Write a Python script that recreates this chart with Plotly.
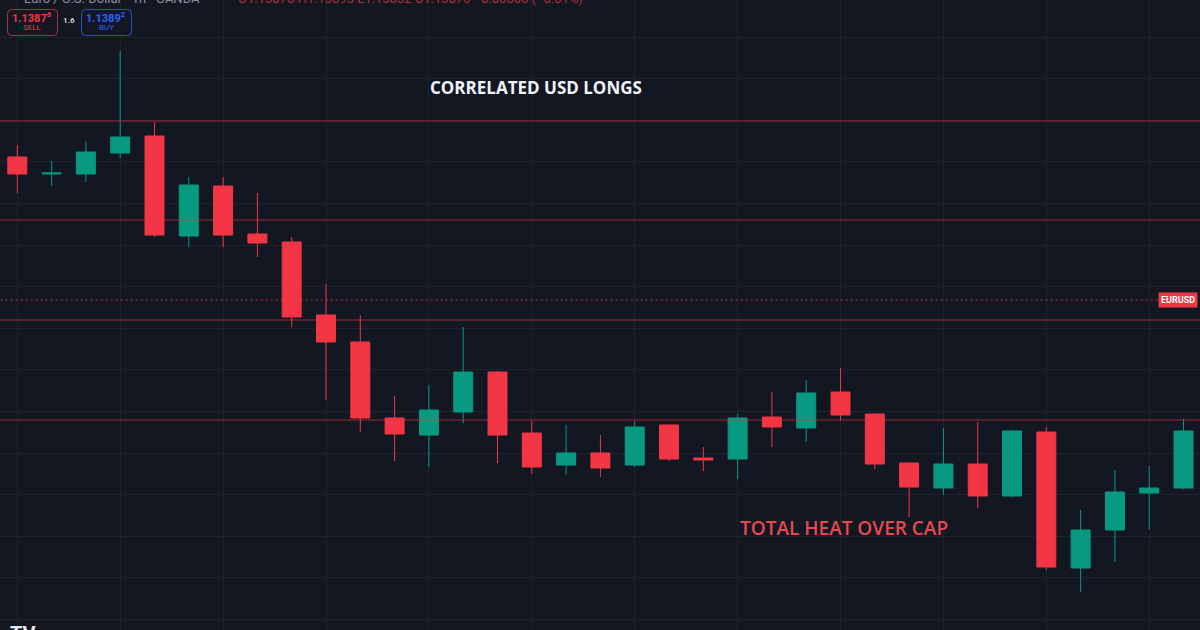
import plotly.graph_objects as go

# ---- data (EUR/USD 1h candles) ----
idx = list(range(35))
opens = [1.14343, 1.14326, 1.14326, 1.14347, 1.14364, 1.14264, 1.14314, 1.14266, 1.14258, 1.14185,
         1.14158, 1.14082, 1.14065, 1.14088, 1.14128, 1.14067, 1.14035, 1.14047, 1.14035, 1.14075,
         1.14042, 1.14041, 1.14083, 1.14072, 1.14108, 1.14086, 1.14037, 1.14012, 1.14036, 1.14004,
         1.14068, 1.13932, 1.13970, 1.14007, 1.14012]
highs = [1.14355, 1.14339, 1.14359, 1.14449, 1.14378, 1.14323, 1.14323, 1.14307, 1.14263, 1.14216,
         1.14185, 1.14104, 1.14115, 1.14173, 1.14129, 1.14079, 1.14075, 1.14065, 1.14079, 1.14076,
         1.14053, 1.14086, 1.14108, 1.14120, 1.14132, 1.14087, 1.14038, 1.14072, 1.14078, 1.14070,
         1.14073, 1.13990, 1.14030, 1.14034, 1.14081]
lows = [1.14307, 1.14314, 1.14318, 1.14342, 1.14263, 1.14253, 1.14253, 1.14243, 1.14173, 1.14100,
        1.14068, 1.14039, 1.14033, 1.14077, 1.14037, 1.14026, 1.14025, 1.14023, 1.14033, 1.14039,
        1.14029, 1.14021, 1.14053, 1.14058, 1.14080, 1.14031, 1.13983, 1.14005, 1.13992, 1.14003,
        1.13930, 1.13908, 1.13938, 1.13971, 1.14011]
closes = [1.14326, 1.14327, 1.14348, 1.14363, 1.14265, 1.14315, 1.14265, 1.14257, 1.14183, 1.14158,
          1.14082, 1.14066, 1.14090, 1.14128, 1.14065, 1.14033, 1.14047, 1.14032, 1.14073, 1.14041,
          1.14040, 1.14082, 1.14073, 1.14107, 1.14085, 1.14036, 1.14013, 1.14036, 1.14004, 1.14069,
          1.13933, 1.13970, 1.14008, 1.14012, 1.14069]

level_lines = [1.14379, 1.14280, 1.14180, 1.14080]   # drawn horizontal levels
last_price_line = 1.14200                            # EURUSD dotted marker

sell_price = "1.1387"
sell_pip = "6"
buy_price = "1.1389"
buy_pip = "2"
spread = "1.6"
title_top = "CORRELATED USD LONGS"
title_bottom = "TOTAL HEAT OVER CAP"

# ---- style ----
BG = "#131722"
GRID = "#1e222d"
UP = "#089981"
DOWN = "#f23645"
LEVEL = "rgba(242,54,69,0.6)"
W, H = 1200, 630
Y_TOP, Y_BOT = 1.14500, 1.13870
X_MIN, X_MAX = -0.504, 34.48

def px_x(p):
    return p / W

def px_y(p):
    return 1 - p / H

fig = go.Figure()

# level lines drawn as traces (above grid, below candles)
for lv in level_lines:
    fig.add_trace(go.Scatter(x=[X_MIN - 1, X_MAX + 1], y=[lv, lv], mode="lines",
                             line=dict(color=LEVEL, width=1), hoverinfo="skip", showlegend=False))
dot_end = X_MIN + (X_MAX - X_MIN) * 1160 / W
fig.add_trace(go.Scatter(x=[X_MIN - 1, dot_end], y=[last_price_line, last_price_line], mode="lines",
                         line=dict(color="rgba(242,54,69,0.85)", width=1, dash="2px,3px"),
                         hoverinfo="skip", showlegend=False))

fig.add_trace(go.Candlestick(
    x=idx, open=opens, high=highs, low=lows, close=closes,
    increasing=dict(line=dict(color=UP, width=1), fillcolor=UP),
    decreasing=dict(line=dict(color=DOWN, width=1), fillcolor=DOWN),
    whiskerwidth=0, hoverinfo="skip", showlegend=False,
))

shapes = []

def rrect(x0, y0, x1, y1, r, color):
    X = lambda v: px_x(v)
    Y = lambda v: px_y(v)
    path = (f"M{X(x0+r)},{Y(y0)} L{X(x1-r)},{Y(y0)} Q{X(x1)},{Y(y0)} {X(x1)},{Y(y0+r)} "
            f"L{X(x1)},{Y(y1-r)} Q{X(x1)},{Y(y1)} {X(x1-r)},{Y(y1)} "
            f"L{X(x0+r)},{Y(y1)} Q{X(x0)},{Y(y1)} {X(x0)},{Y(y1-r)} "
            f"L{X(x0)},{Y(y0+r)} Q{X(x0)},{Y(y0)} {X(x0+r)},{Y(y0)} Z")
    return dict(type="path", xref="paper", yref="paper", path=path,
                line=dict(color=color, width=1), fillcolor=BG, layer="above")

shapes.append(rrect(7.5, 9.5, 57.5, 35.5, 4, "#a8323c"))
shapes.append(rrect(81.5, 9.5, 131.5, 35.5, 4, "#2a4fc4"))

ann = []
ann.append(dict(text=f"<b>{title_top}</b>", xref="paper", yref="paper", x=px_x(536), y=px_y(88),
                showarrow=False, font=dict(family="Open Sans", size=17, color="#f0f3fa"),
                xanchor="center", yanchor="middle"))
ann.append(dict(text=title_bottom, xref="paper", yref="paper", x=px_x(844), y=px_y(528),
                showarrow=False, font=dict(family="Open Sans", size=19, color="#e8484f", weight=600),
                xanchor="center", yanchor="middle"))
ann.append(dict(text="<b>EURUSD</b>", xref="paper", yref="y", x=1, y=last_price_line, xshift=-2,
                showarrow=False, font=dict(family="Roboto", size=9, color="#ffffff"),
                bgcolor=DOWN, borderpad=2, xanchor="right", yanchor="middle"))
ann.append(dict(text=f"<b>{sell_price}<sup>{sell_pip}</sup></b>", xref="paper", yref="paper",
                x=px_x(32), y=px_y(17), showarrow=False,
                font=dict(family="Roboto", size=11, color=DOWN), xanchor="center", yanchor="middle"))
ann.append(dict(text="SELL", xref="paper", yref="paper", x=px_x(32), y=px_y(28), showarrow=False,
                font=dict(family="Roboto", size=8, color=DOWN), xanchor="center", yanchor="middle"))
ann.append(dict(text=f"<b>{buy_price}<sup>{buy_pip}</sup></b>", xref="paper", yref="paper",
                x=px_x(106), y=px_y(17), showarrow=False,
                font=dict(family="Roboto", size=11, color="#2962ff"), xanchor="center", yanchor="middle"))
ann.append(dict(text="BUY", xref="paper", yref="paper", x=px_x(106), y=px_y(28), showarrow=False,
                font=dict(family="Roboto", size=8, color="#2962ff"), xanchor="center", yanchor="middle"))
ann.append(dict(text=f"<b>{spread}</b>", xref="paper", yref="paper", x=px_x(69), y=px_y(21),
                showarrow=False, font=dict(family="Roboto", size=8, color="#d1d4dc"),
                xanchor="center", yanchor="middle"))
ann.append(dict(text="Euro / U.S. Dollar · 1h · OANDA", xref="paper", yref="paper",
                x=px_x(22), y=px_y(-2), showarrow=False,
                font=dict(family="Roboto", size=13, color="#8a8f9c"), xanchor="left", yanchor="middle"))
ann.append(dict(text="O1.13870 H1.13893 L1.13852 C1.13876 −0.00006 (−0.01%)", xref="paper", yref="paper",
                x=px_x(236), y=px_y(-2), showarrow=False,
                font=dict(family="Roboto", size=13, color="#b0303c"), xanchor="left", yanchor="middle"))
ann.append(dict(text="<b>TV</b>", xref="paper", yref="paper", x=px_x(8), y=px_y(634), showarrow=False,
                font=dict(family="Roboto", size=20, color="#e8e8e8"), xanchor="left", yanchor="middle"))

fig.update_layout(
    width=W, height=H, margin=dict(l=0, r=0, t=0, b=0),
    paper_bgcolor=BG, plot_bgcolor=BG,
    shapes=shapes, annotations=ann, boxgap=0.21,
    hovermode=False, showlegend=False,
)
fig.update_xaxes(range=[X_MIN, X_MAX], showgrid=True, gridcolor=GRID, gridwidth=1,
                 tick0=0, dtick=3, showticklabels=False, zeroline=False,
                 rangeslider=dict(visible=False), fixedrange=True, showline=False, ticks="")
fig.update_yaxes(range=[Y_BOT, Y_TOP], showgrid=True, gridcolor=GRID, gridwidth=1,
                 tick0=1.14463, dtick=0.000416, showticklabels=False, zeroline=False,
                 fixedrange=True, showline=False, ticks="")

fig.write_html("out.html", config=dict(displayModeBar=False),
               post_script="document.body.style.margin='0';")
